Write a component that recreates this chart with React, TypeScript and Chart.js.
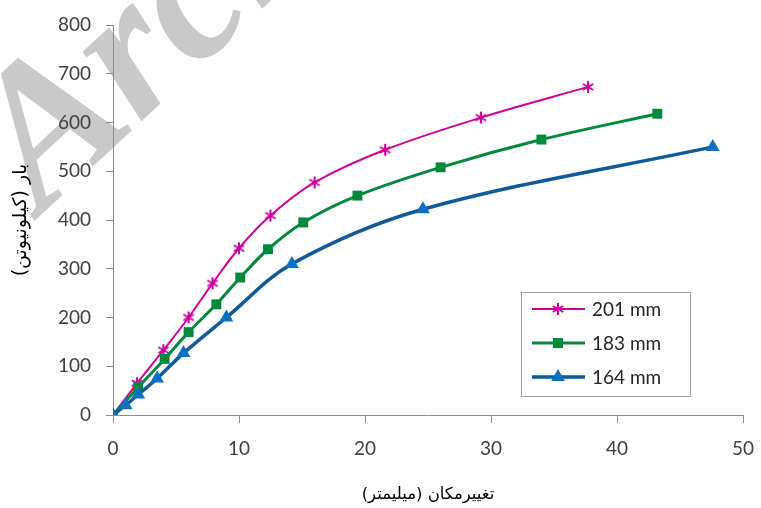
import React, { useEffect, useRef } from "react";
import { Chart, registerables } from "chart.js";

Chart.register(...registerables);

const xTickValues = [0, 10, 20, 30, 40, 50];
const yTickValues = [0, 100, 200, 300, 400, 500, 600, 700, 800];

const seriesLabels = ["201 mm", "183 mm", "164 mm"];

const s201X = [0, 1.9, 4.0, 6.0, 7.9, 10.0, 12.5, 16.0, 21.6, 29.2, 37.7];
const s201Y = [0, 65, 133, 200, 270, 342, 409, 477, 544, 610, 673];

const s183X = [0, 2.0, 4.1, 6.0, 8.2, 10.1, 12.3, 15.1, 19.4, 26.0, 34.0, 43.2];
const s183Y = [0, 57, 115, 170, 227, 282, 340, 395, 450, 508, 565, 618];

const s164X = [0, 1.0, 2.0, 3.5, 5.6, 9.0, 14.2, 24.6, 47.6];
const s164Y = [0, 20, 42, 75, 127, 200, 310, 422, 550];

const xTitle = "تغییرمکان (میلیمتر)";
const yTitle = "بار (کیلونیوتن)";
const watermark = "Archive";

const MAGENTA = "#CC0099";
const GREEN = "#00883C";
const BLUE_LINE = "#105A9A";
const BLUE_FILL = "#0A70C2";

function toPoints(xs: number[], ys: number[]) {
  return xs.map((x, i) => ({ x, y: ys[i] }));
}

function makeStar(size: number, color: string) {
  const c = document.createElement("canvas");
  c.width = size;
  c.height = size;
  const ctx = c.getContext("2d")!;
  ctx.strokeStyle = color;
  ctx.lineWidth = 2;
  ctx.lineCap = "butt";
  const m = size / 2;
  const r = size / 2 - 1;
  ctx.beginPath();
  ctx.moveTo(m, m - r);
  ctx.lineTo(m, m + r);
  const a = Math.PI / 6;
  ctx.moveTo(m - r * Math.cos(a), m - r * Math.sin(a));
  ctx.lineTo(m + r * Math.cos(a), m + r * Math.sin(a));
  ctx.moveTo(m - r * Math.cos(a), m + r * Math.sin(a));
  ctx.lineTo(m + r * Math.cos(a), m - r * Math.sin(a));
  ctx.stroke();
  return c;
}

const TICK_FONT = { family: "Lato, 'Open Sans', sans-serif", size: 19 };
const TICK_COLOR = "#404040";
const AXIS_COLOR = "#8c8c8c";

export default function App() {
  const ref = useRef<HTMLCanvasElement | null>(null);

  useEffect(() => {
    if (!ref.current) return;
    const star = makeStar(14, MAGENTA);

    const watermarkPlugin = {
      id: "watermark",
      beforeDraw(chart: any) {
        const ctx = chart.ctx;
        ctx.save();
        ctx.translate(42, 214);
        ctx.rotate((-43 * Math.PI) / 180);
        ctx.font = "italic bold 198px 'Liberation Serif', serif";
        ctx.fillStyle = "#c9c9c9";
        ctx.textBaseline = "alphabetic";
        ctx.fillText(watermark, 0, 0);
        ctx.restore();
      },
    };

    const legendPlugin = {
      id: "boxLegend",
      afterDraw(chart: any) {
        const ctx = chart.ctx;
        ctx.save();
        const bx = 521.5, by = 292.5, bw = 169, bh = 104;
        ctx.fillStyle = "#ffffff";
        ctx.fillRect(bx, by, bw, bh);
        ctx.strokeStyle = "#a0a0a0";
        ctx.lineWidth = 1;
        ctx.strokeRect(bx, by, bw, bh);
        const rows = [309, 343, 377];
        const colors = [MAGENTA, GREEN, BLUE_LINE];
        const widths = [2, 3, 3.5];
        rows.forEach((ry, i) => {
          ctx.strokeStyle = colors[i];
          ctx.lineWidth = widths[i];
          ctx.beginPath();
          ctx.moveTo(532, ry);
          ctx.lineTo(585, ry);
          ctx.stroke();
          const cx = 558;
          if (i === 0) {
            ctx.drawImage(star, cx - 7, ry - 7);
          } else if (i === 1) {
            ctx.fillStyle = GREEN;
            ctx.fillRect(cx - 5, ry - 5, 10, 10);
          } else {
            const r = 8;
            ctx.fillStyle = BLUE_FILL;
            ctx.beginPath();
            ctx.moveTo(cx, ry - r);
            ctx.lineTo(cx + r * Math.sin((2 * Math.PI) / 3), ry + r / 2);
            ctx.lineTo(cx - r * Math.sin((2 * Math.PI) / 3), ry + r / 2);
            ctx.closePath();
            ctx.fill();
          }
          ctx.fillStyle = "#262626";
          ctx.font = "19px Lato, 'Open Sans', sans-serif";
          ctx.textBaseline = "middle";
          ctx.textAlign = "left";
          ctx.fillText(seriesLabels[i], 592, ry + 1);
        });
        ctx.restore();
      },
    };

    const chart = new Chart(ref.current, {
      type: "line",
      data: {
        datasets: [
          {
            label: seriesLabels[2],
            data: toPoints(s164X, s164Y),
            borderColor: BLUE_LINE,
            backgroundColor: BLUE_FILL,
            borderWidth: 3.5,
            pointStyle: "triangle",
            pointRadius: 8,
            pointBorderWidth: 0,
            pointBackgroundColor: BLUE_FILL,
            pointBorderColor: BLUE_FILL,
            tension: 0.35,
            fill: false,
          },
          {
            label: seriesLabels[1],
            data: toPoints(s183X, s183Y),
            borderColor: GREEN,
            backgroundColor: GREEN,
            borderWidth: 3,
            pointStyle: "rect",
            pointRadius: 7,
            pointBorderWidth: 0,
            pointBackgroundColor: GREEN,
            tension: 0.35,
            fill: false,
          },
          {
            label: seriesLabels[0],
            data: toPoints(s201X, s201Y),
            borderColor: MAGENTA,
            backgroundColor: MAGENTA,
            borderWidth: 2,
            pointStyle: star as any,
            pointRadius: 7,
            tension: 0.35,
            fill: false,
          },
        ],
      },
      options: {
        animation: false,
        responsive: false,
        maintainAspectRatio: false,
        layout: { padding: { top: 25, right: 18, left: 0, bottom: 0 } },
        plugins: {
          legend: { display: false },
          tooltip: { enabled: false },
        },
        scales: {
          x: {
            type: "linear",
            min: 0,
            max: 50,
            afterBuildTicks: (s: any) => {
              s.ticks = xTickValues.map((v) => ({ value: v }));
            },
            ticks: { font: TICK_FONT, color: TICK_COLOR, padding: 14, maxRotation: 0 },
            grid: { display: true, drawOnChartArea: false, drawTicks: true, tickLength: 8, color: AXIS_COLOR },
            border: { color: AXIS_COLOR, width: 1 },
            title: {
              display: true,
              text: xTitle,
              color: "#000",
              font: { family: "'DejaVu Sans', sans-serif", size: 16.5 },
              padding: { top: 0, bottom: 3 },
            },
            afterFit: (s: any) => {
              s.height = 93;
              s.paddingLeft = 0;
              s.paddingRight = 0;
            },
          },
          y: {
            type: "linear",
            min: 0,
            max: 800,
            afterBuildTicks: (s: any) => {
              s.ticks = yTickValues.map((v) => ({ value: v }));
            },
            ticks: { font: TICK_FONT, color: TICK_COLOR, padding: 15 },
            grid: { display: true, drawOnChartArea: false, drawTicks: true, tickLength: 7, color: AXIS_COLOR },
            border: { color: AXIS_COLOR, width: 1 },
            title: {
              display: true,
              text: yTitle,
              color: "#000",
              font: { family: "'DejaVu Sans', sans-serif", size: 19 },
              padding: { top: 10, bottom: 0 },
            },
            afterFit: (s: any) => {
              s.width = 113;
              s.paddingTop = 0;
              s.paddingBottom = 0;
            },
          },
        },
      },
      plugins: [watermarkPlugin, legendPlugin],
    } as any);

    return () => chart.destroy();
  }, []);

  return (
    <div style={{ position: "fixed", left: 0, top: 0, width: 761, height: 508, background: "#fff" }}>
      <canvas ref={ref} width={761} height={508} style={{ width: 761, height: 508, display: "block" }} />
    </div>
  );
}
